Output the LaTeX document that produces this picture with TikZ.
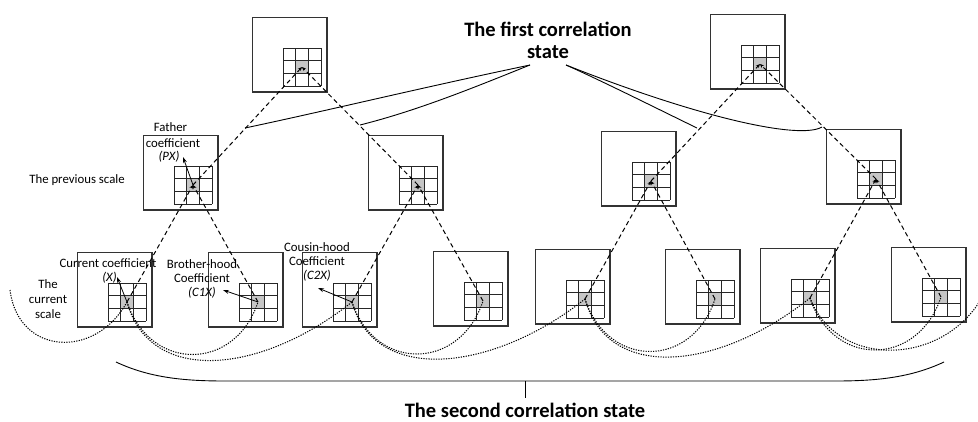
\documentclass[tikz,border=0pt]{standalone}
\usepackage{fontspec}
\setmainfont{Carlito}
\usetikzlibrary{arrows.meta}
\begin{document}
\begin{tikzpicture}[x=1pt,y=-1pt,
  boxline/.style={draw=black!80,line width=1.1pt},
  gridline/.style={draw=black!85,line width=0.9pt},
  tree/.style={line width=1pt,dash pattern=on 4.5pt off 3.2pt,-{Stealth[length=4pt,width=3.5pt]}},
  link/.style={line width=1.05pt,dash pattern=on 1.2pt off 1.3pt},
  ptr/.style={line width=0.8pt,-{Stealth[length=6pt,width=4pt]}},
  brace/.style={line width=0.9pt},
  lbl/.style={font=\fontsize{12.8}{13.6}\selectfont,align=center,inner sep=0pt},
  ttl/.style={font=\fontsize{20.5}{23}\selectfont\bfseries,align=center,inner sep=0pt,anchor=base},
  cellbox/.pic={
    \draw[boxline] (-49.5,-49.5) rectangle (25,25);
    \fill[gray!45] (-6.33,-6.33) rectangle (6.33,6.33);
    \foreach \i in {-19,-6.33,6.33,19}{
      \draw[gridline] (\i,-19) -- (\i,19);
      \draw[gridline] (-19,\i) -- (19,\i);}
  }]
\useasboundingbox (0,0) rectangle (978,421);
\clip (0,0) rectangle (978,421);
% centres
\coordinate (t1) at (302,67);
\coordinate (t2) at (760,64);
\coordinate (m1) at (193,185);
\coordinate (m2) at (418,185);
\coordinate (m3) at (651,181);
\coordinate (m4) at (876,179);
\coordinate (b1) at (127,302);
\coordinate (b2) at (258,302);
\coordinate (b3) at (352,302);
\coordinate (b4) at (483,301);
\coordinate (b5) at (585,299);
\coordinate (b6) at (715,299);
\coordinate (b7) at (810,298);
\coordinate (b8) at (941,297);
% boxes
\foreach \n in {t1,t2,m1,m2,m3,m4,b1,b2,b3,b4,b5,b6,b7,b8}{\pic at (\n) {cellbox};}
% tree connectors
\draw[tree] (m1) -- (t1);
\draw[tree] (m2) -- (t1);
\draw[tree] (m3) -- (t2);
\draw[tree] (m4) -- (t2);
\draw[tree] (b1) -- (m1);
\draw[tree] (b2) -- (m1);
\draw[tree] (b3) -- (m2);
\draw[tree] (b4) -- (m2);
\draw[tree] (b5) -- (m3);
\draw[tree] (b6) -- (m3);
\draw[tree] (b7) -- (m4);
\draw[tree] (b8) -- (m4);
% dotted relations
\coordinate (lin) at (10,290);
\coordinate (rout) at (990,280);
\draw[link] (lin) .. controls (18,355) and (95,360) .. (b1);
\draw[link] (b1) .. controls +(23,70) and +(-23,70) .. (b2);
\draw[link] (b1) .. controls +(23,83) and +(-92,73) .. (b3);
\draw[link] (b3) .. controls +(23,70) and +(-23,70) .. (b4);
\draw[link] (b3) .. controls +(23,83) and +(-92,73) .. (b5);
\draw[link] (b5) .. controls +(23,70) and +(-23,70) .. (b6);
\draw[link] (b5) .. controls +(23,83) and +(-92,73) .. (b7);
\draw[link] (b7) .. controls +(23,70) and +(-23,70) .. (b8);
\draw[link] (b7) .. controls (840,375) and (960,365) .. (rout);
% pointer arrows and labels
\coordinate (pxa) at (183,157);
\coordinate (xa) at (117,277);
\coordinate (c1a) at (223,290);
\coordinate (c2a) at (318,288);
\draw[ptr] (m1) -- (pxa);
\draw[ptr] (b1) -- (xa);
\draw[ptr] (b2) -- (c1a);
\draw[ptr] (b3) -- (c2a);
\node[lbl] (fa1) at (170.5,127) {Father};
\node[lbl] (fa2) at (173,143) {coefficient};
\node[lbl] (fa3) at (169,157) {\itshape(PX)};
\node[lbl] (prev) at (77,180) {The previous scale};
\node[lbl] (cur1) at (108,263) {Current coefficient};
\node[lbl] (cur2) at (109.5,278) {\itshape(X)};
\node[lbl,font=\fontsize{12.8}{15}\selectfont] (cs) at (48,299) {The\\current\\scale};
\node[lbl] (bro) at (202,279) {Brother-hood\\Coefficient\\\itshape(C1X)};
\node[lbl] (cou) at (317,262) {Cousin-hood\\Coefficient\\\itshape(C2X)};
% first correlation state
\node[ttl] (fc1) at (548,36) {The first correlation};
\node[ttl] (fc2) at (548,58) {state};
\coordinate (fl) at (530,65);
\coordinate (fr) at (566,65);
\coordinate (p1) at (245,128);
\coordinate (p2) at (360,125);
\coordinate (p3) at (697,128);
\coordinate (p4) at (822,127);
\draw[brace] (p1) .. controls (330,110) and (420,88) .. (fl);
\draw[brace] (p2) .. controls (420,110) and (480,85) .. (fl);
\draw[brace] (p3) .. controls (660,110) and (600,80) .. (fr);
\draw[brace] (p4) .. controls (800,140) and (700,118) .. (fr);
% second correlation state
\coordinate (sl) at (116,362);
\coordinate (sr) at (944,362);
\coordinate (sm) at (525,381);
\coordinate (st) at (525,398);
\draw[brace] (sl) .. controls (150,378) and (185,381) .. (225,381) -- (835,381) .. controls (875,381) and (910,378) .. (sr);
\draw[brace] (sm) -- (st);
\node[ttl] (sc) at (525,417) {The second correlation state};
\end{tikzpicture}
\end{document}
